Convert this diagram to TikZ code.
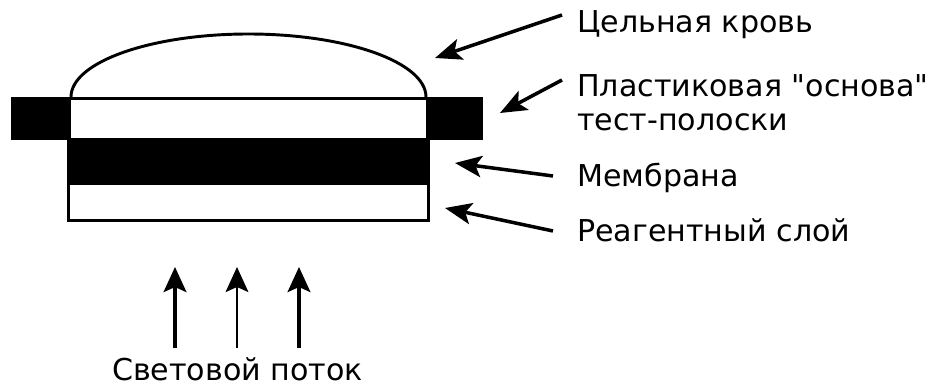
\documentclass[tikz,border=0pt]{standalone}
\usepackage{fontspec}
\setmainfont{DejaVu Sans}
\usetikzlibrary{arrows.meta}

\begin{document}
\begin{tikzpicture}[
  x=1cm, y=1cm,
  every node/.style={font=\fontsize{25.7}{29}\selectfont},
  lbl/.style={anchor=west, inner sep=0pt, text height=0.66cm, text depth=0pt},
  sloj/.style={draw=black, line width=3pt},
  fl/.style={-{Stealth[length=0.8cm, width=0.64cm, inset=0.18cm]}, line width=3pt},
  fv/.style={-{Stealth[length=0.75cm, width=0.68cm, inset=0.15cm]}, line width=3.4pt}
]
\useasboundingbox (0,0) rectangle (27.9,-11.64);

% капля крови
\draw[line width=2.5pt] (2.13,-2.91) arc[start angle=180, end angle=0, x radius=5.325, y radius=1.89];

% основа, мембрана, реагентный слой
\fill (0.33,-2.91) rectangle (14.49,-4.2);
\fill[white] (2.13,-3.0) rectangle (12.78,-4.14);
\fill (2.01,-4.14) rectangle (12.9,-5.49);
\draw[sloj, fill=white] (2.06,-5.49) rectangle (12.85,-6.61);

\coordinate (tipKrov)   at (13.05,-1.74);
\coordinate (tipOsnova) at (15.0,-3.39);
\coordinate (tipMembr)  at (13.65,-4.89);
\coordinate (tipReag)   at (13.35,-6.24);

\node[lbl] (krov)   at (17.31,-0.66) {Цельная кровь};
\node[lbl] (osnova) at (17.31,-2.58) {Пластиковая \textquotedbl основа\textquotedbl};
\node[lbl, anchor=base west] (polos) at ([yshift=-1.02cm]osnova.base west) {тест-полоски};
\node[lbl] (membr)  at (17.31,-5.28) {Мембрана};
\node[lbl] (reag)   at (17.31,-6.93) {Реагентный слой};

\draw[fl] ([xshift=-0.45cm, yshift=0.21cm]krov.west) -- (tipKrov);
\draw[fl] ([xshift=-0.45cm, yshift=0.18cm]osnova.west) -- (tipOsnova);
\draw[fl] ([xshift=-0.72cm]membr.west) -- (tipMembr);
\draw[fl] ([xshift=-0.72cm]reag.west) -- (tipReag);

% световой поток
\node[anchor=base, inner sep=0pt, text height=0.66cm, text depth=0pt] (svet) at (7.125,-11.41) {Световой поток};
\coordinate (luchA) at (5.25,-8.01);
\coordinate (luchB) at (7.11,-8.01);
\coordinate (luchC) at (8.97,-8.01);
\draw[fv] ([xshift=-1.875cm, yshift=0.31cm]svet.north) -- (luchA);
\draw[fv, line width=2.2pt] ([xshift=-0.015cm, yshift=0.31cm]svet.north) -- (luchB);
\draw[fv] ([xshift=1.845cm, yshift=0.31cm]svet.north) -- (luchC);

\end{tikzpicture}
\end{document}
